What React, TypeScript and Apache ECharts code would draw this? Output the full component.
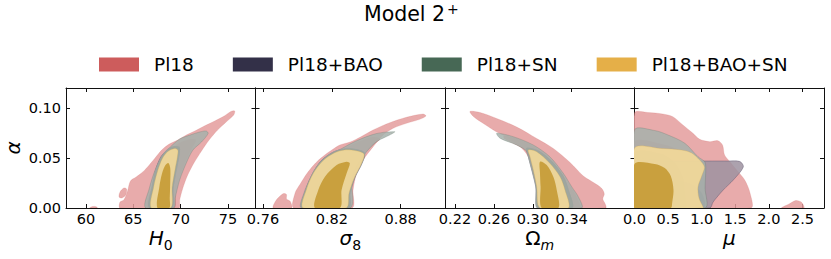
import React, { useEffect, useRef } from "react";
import * as echarts from "echarts";

type Pt = [number, number];

const FONT = "DejaVu Sans";

// ---------- legend ----------
const LEGEND_NAMES = ["Pl18", "Pl18+BAO", "Pl18+SN", "Pl18+BAO+SN"];
const LEGEND_COLORS = ["#CD5C5C", "#333048", "#476855", "#E5AF48"];

// ---------- ticks ----------
const ALPHA_TICKS = [0, 0.05, 0.1];
const H0_TICKS = [60, 65, 70, 75];
const S8_TICKS = [0.76, 0.82, 0.88];
const OM_TICKS = [0.22, 0.26, 0.3, 0.34];
const MU_TICKS = [0, 0.5, 1.0, 1.5, 2.0, 2.5];

// ---------- H0 panel contours (H0, alpha) ----------
const H0_PL18_2S: Pt[] = [[63.6,0],[63.6,0.006],[64.0,0.008],[64.4,0.017],[64.7,0.027],[65.3,0.031],[66.0,0.036],[66.6,0.042],[67.3,0.05],[68.0,0.058],[68.8,0.064],[69.7,0.068],[70.6,0.073],[71.5,0.077],[72.5,0.082],[73.6,0.087],[74.6,0.092],[75.3,0.0965],[75.7,0.097],[75.6,0.093],[74.8,0.086],[73.9,0.078],[73.0,0.068],[72.2,0.057],[71.4,0.045],[70.7,0.032],[70.2,0.019],[69.9,0.008],[69.8,0]];
const H0_PL18_2S_ISLAND: Pt[] = [[63.5,0.011],[63.6,0.016],[64.0,0.02],[64.3,0.019],[64.2,0.013],[63.8,0.01]];
const H0_PL18_2S_SPECK: Pt[] = [[60.4,0],[60.7,0.0015],[61.1,0.0012],[61.2,0]];
const H0_PL18_1S: Pt[] = [[66.5,0],[66.9,0.02],[67.5,0.038],[68.2,0.051],[69.1,0.06],[70.1,0.066],[71.1,0.069],[71.6,0.068],[71.2,0.06],[70.5,0.046],[69.9,0.03],[69.5,0.014],[69.35,0]];
const H0_BAO_2S: Pt[] = [[66.7,0],[66.95,0.02],[67.35,0.038],[67.9,0.051],[68.6,0.058],[69.3,0.061],[69.85,0.059],[69.8,0.05],[69.5,0.036],[69.2,0.02],[69.05,0]];
const H0_BAO_1S: Pt[] = [[67.5,0],[67.7,0.02],[68.1,0.036],[68.6,0.042],[68.9,0.038],[68.9,0.02],[68.8,0]];
const H0_SN_2S: Pt[] = [[66.3,0],[66.7,0.02],[67.3,0.038],[68.0,0.051],[68.9,0.061],[69.9,0.069],[71.0,0.073],[72.0,0.076],[72.7,0.077],[72.9,0.0745],[72.2,0.066],[71.3,0.058],[70.6,0.045],[69.9,0.028],[69.45,0.011],[69.25,0]];
const H0_SN_1S: Pt[] = [[66.7,0],[66.95,0.02],[67.35,0.038],[67.9,0.051],[68.6,0.059],[69.3,0.062],[69.9,0.061],[69.85,0.052],[69.55,0.037],[69.25,0.02],[69.1,0]];
const H0_ALL_2S: Pt[] = [[66.9,0],[67.15,0.021],[67.6,0.038],[68.1,0.05],[68.65,0.0565],[69.35,0.0595],[69.7,0.058],[69.65,0.051],[69.4,0.038],[69.1,0.021],[68.95,0]];
const H0_ALL_1S: Pt[] = [[67.55,0],[67.75,0.021],[68.05,0.035],[68.4,0.043],[68.7,0.045],[68.9,0.04],[68.9,0.025],[68.85,0.01],[68.8,0]];

// ---------- sigma8 panel contours ----------
const S8_PL18_2S: Pt[] = [[0.787,0],[0.788,0.015],[0.7925,0.024],[0.798,0.034],[0.8035,0.042],[0.8085,0.048],[0.815,0.054],[0.82,0.058],[0.827,0.063],[0.836,0.066],[0.845,0.071],[0.856,0.078],[0.8705,0.0853],[0.885,0.0907],[0.8995,0.094],[0.902,0.092],[0.8966,0.0887],[0.885,0.0847],[0.8734,0.0797],[0.8647,0.073],[0.856,0.0613],[0.8473,0.048],[0.8416,0.0347],[0.8385,0.018],[0.8375,0]];
const S8_PL18_2S_ISLAND: Pt[] = [[0.769,0],[0.7705,0.006],[0.774,0.011],[0.778,0.0145],[0.7805,0.0135],[0.7805,0.009],[0.7835,0.007],[0.785,0.003],[0.785,0]];
const S8_PL18_1S: Pt[] = [[0.795,0],[0.797,0.016],[0.801,0.028],[0.8065,0.039],[0.812,0.047],[0.822,0.054],[0.832,0.06],[0.843,0.066],[0.856,0.071],[0.862,0.069],[0.855,0.062],[0.848,0.054],[0.842,0.042],[0.838,0.028],[0.8355,0.012],[0.835,0]];
const S8_BAO_2S: Pt[] = [[0.7945,0],[0.7975,0.019],[0.8035,0.035],[0.8115,0.048],[0.8215,0.056],[0.831,0.059],[0.8405,0.0585],[0.8485,0.0545],[0.8465,0.045],[0.84,0.03],[0.836,0.015],[0.8345,0]];
const S8_BAO_1S: Pt[] = [[0.803,0],[0.806,0.018],[0.812,0.032],[0.822,0.043],[0.832,0.047],[0.835,0.044],[0.832,0.033],[0.829,0.017],[0.828,0]];
const S8_SN_2S: Pt[] = [[0.7935,0],[0.796,0.016],[0.8005,0.028],[0.806,0.04],[0.8115,0.048],[0.8215,0.055],[0.831,0.061],[0.842,0.0675],[0.859,0.0745],[0.8749,0.0763],[0.8705,0.073],[0.859,0.0663],[0.8503,0.0563],[0.8416,0.0413],[0.8375,0.028],[0.836,0]];
const S8_SN_1S: Pt[] = [[0.7945,0],[0.7975,0.019],[0.8035,0.036],[0.8115,0.048],[0.8215,0.0565],[0.831,0.0595],[0.841,0.059],[0.8488,0.0552],[0.8468,0.0455],[0.8403,0.0305],[0.8362,0.015],[0.8348,0]];
const S8_ALL_2S: Pt[] = [[0.795,0],[0.798,0.019],[0.804,0.035],[0.812,0.047],[0.822,0.055],[0.831,0.058],[0.84,0.0575],[0.848,0.054],[0.846,0.045],[0.8395,0.03],[0.835,0.015],[0.8325,0]];
const S8_ALL_1S: Pt[] = [[0.8053,0],[0.8082,0.018],[0.814,0.0313],[0.8242,0.043],[0.8329,0.0463],[0.8357,0.0447],[0.8329,0.0347],[0.8285,0.018],[0.827,0]];

// ---------- Omega_m panel contours ----------
const OM_PL18_2S: Pt[] = [[0.2354,0.0965],[0.2457,0.0955],[0.2629,0.0895],[0.2834,0.081],[0.304,0.0695],[0.3211,0.0595],[0.3383,0.0455],[0.352,0.032],[0.364,0.0245],[0.371,0.0195],[0.3735,0.014],[0.372,0.009],[0.3745,0.004],[0.375,0],[0.3055,0],[0.3045,0.015],[0.3025,0.03],[0.299,0.043],[0.293,0.055],[0.285,0.063],[0.275,0.07],[0.262,0.0765],[0.25,0.084],[0.2389,0.0915]];
const OM_PL18_1S: Pt[] = [[0.27,0.072],[0.285,0.069],[0.3,0.062],[0.316,0.051],[0.33,0.035],[0.339,0.021],[0.345,0.011],[0.348,0],[0.3065,0],[0.3055,0.015],[0.3035,0.031],[0.3,0.047],[0.295,0.056],[0.285,0.062],[0.271,0.069]];
const OM_BAO_2S: Pt[] = [[0.2937,0.0597],[0.3074,0.0563],[0.3211,0.0447],[0.3314,0.0313],[0.3365,0.018],[0.34,0],[0.3057,0],[0.303,0.0213],[0.2989,0.038],[0.2954,0.0513]];
const OM_BAO_1S: Pt[] = [[0.306,0.045],[0.316,0.042],[0.323,0.03],[0.326,0.016],[0.327,0],[0.308,0],[0.3065,0.02],[0.3055,0.035]];
const OM_SN_2S: Pt[] = [[0.2629,0.0747],[0.28,0.0713],[0.3005,0.063],[0.3175,0.0513],[0.3314,0.0347],[0.34,0.0213],[0.3468,0.0113],[0.3503,0],[0.3046,0],[0.304,0.0147],[0.3023,0.0313],[0.2989,0.048],[0.2944,0.0563],[0.2834,0.063],[0.2663,0.0697]];
const OM_SN_1S: Pt[] = [[0.2935,0.06],[0.306,0.057],[0.3205,0.046],[0.3315,0.032],[0.337,0.018],[0.3405,0],[0.3052,0],[0.3028,0.021],[0.2987,0.038],[0.2948,0.052]];
const OM_ALL_2S: Pt[] = [[0.2954,0.058],[0.304,0.0563],[0.3175,0.0447],[0.328,0.0313],[0.3331,0.018],[0.3365,0],[0.3074,0],[0.304,0.0213],[0.3005,0.038],[0.2971,0.0513]];
const OM_ALL_1S: Pt[] = [[0.3074,0.0463],[0.3143,0.043],[0.3211,0.0313],[0.3246,0.018],[0.3263,0],[0.3091,0],[0.308,0.0213],[0.3074,0.0347]];

// ---------- mu panel contours ----------
const MU_PL18_2S: Pt[] = [[0,0],[0,0.095],[0.2,0.0955],[0.42,0.094],[0.57,0.0913],[0.72,0.083],[0.87,0.0747],[0.97,0.0687],[1.12,0.0663],[1.24,0.0673],[1.31,0.063],[1.34,0.053],[1.42,0.0463],[1.52,0.038],[1.64,0.028],[1.72,0.0147],[1.73,0]];
const MU_PL18_2S_ISLAND: Pt[] = [[2.19,0],[2.3,0.004],[2.4,0.0075],[2.48,0.006],[2.52,0.002],[2.52,0]];
const MU_PL18_1S: Pt[] = [[0,0],[0,0.066],[0.4,0.064],[0.75,0.055],[0.95,0.043],[1.02,0.025],[1.04,0]];
const MU_BAO_2S: Pt[] = [[0,0],[0,0.047],[0.5,0.047],[1.0,0.047],[1.4,0.047],[1.57,0.0465],[1.62,0.041],[1.47,0.028],[1.32,0.018],[1.17,0.006],[1.12,0]];
const MU_BAO_1S: Pt[] = [[0,0],[0,0.03],[0.4,0.03],[0.8,0.025],[1.0,0.015],[1.03,0]];
const MU_SN_2S: Pt[] = [[0,0],[0,0.078],[0.3,0.0775],[0.5,0.073],[0.75,0.0647],[0.945,0.0513],[1.045,0.0463],[1.06,0.04],[1.05,0.02],[1.05,0]];
const MU_SN_1S: Pt[] = [[0,0],[0,0.055],[0.4,0.054],[0.6,0.045],[0.72,0.03],[0.75,0.015],[0.75,0]];
const MU_ALL_2S: Pt[] = [[0,0],[0,0.0597],[0.4,0.0595],[0.7,0.058],[0.85,0.055],[0.97,0.048],[1.04,0.041],[1.0,0.032],[0.945,0.021],[0.96,0.01],[1.02,0.001],[1.02,0]];
const MU_ALL_1S: Pt[] = [[0,0],[0,0.044],[0.3,0.044],[0.45,0.04],[0.54,0.032],[0.58,0.018],[0.56,0.005],[0.54,0]];

// ---------- styles ----------
const STYLES: Record<string, { fill: string; stroke: string; lw: number }> = {
  red2: { fill: "rgba(228,156,156,0.85)", stroke: "rgba(205,92,92,0.3)", lw: 0.6 },
  red1: { fill: "rgba(222,142,142,0.85)", stroke: "rgba(205,92,92,0)", lw: 0 },
  navy2: { fill: "rgba(157,146,160,0.85)", stroke: "rgba(60,55,85,0.45)", lw: 0.7 },
  navy1: { fill: "rgba(125,115,140,0.85)", stroke: "rgba(60,55,85,0)", lw: 0 },
  green2: { fill: "rgba(166,176,170,0.85)", stroke: "rgba(90,110,100,0.35)", lw: 0.7 },
  green1: { fill: "rgba(156,164,157,0.85)", stroke: "rgba(90,110,100,0)", lw: 0 },
  gold2: { fill: "rgba(248,220,152,0.85)", stroke: "rgba(210,170,80,0.45)", lw: 0.6 },
  gold1: { fill: "rgba(195,151,46,0.85)", stroke: "rgba(180,140,40,0)", lw: 0 },
};

type Layer = { data: Pt[]; style: string; legend: number };
type Panel = { min: number; max: number; ticks: number[]; digits: number; name: string; layers: Layer[] };

const PANELS: Panel[] = [
  {
    min: 57.9, max: 77.9, ticks: H0_TICKS, digits: 0, name: "{i|H}{s|0}",
    layers: [
      { data: H0_PL18_2S, style: "red2", legend: 0 },
      { data: H0_PL18_2S_ISLAND, style: "red2", legend: 0 },
      { data: H0_PL18_2S_SPECK, style: "red2", legend: 0 },
      { data: H0_PL18_1S, style: "red1", legend: 0 },
      { data: H0_BAO_2S, style: "navy2", legend: 1 },
      { data: H0_BAO_1S, style: "navy1", legend: 1 },
      { data: H0_SN_2S, style: "green2", legend: 2 },
      { data: H0_SN_1S, style: "green1", legend: 2 },
      { data: H0_ALL_2S, style: "gold2", legend: 3 },
      { data: H0_ALL_1S, style: "gold1", legend: 3 },
    ],
  },
  {
    min: 0.7535, max: 0.9186, ticks: S8_TICKS, digits: 2, name: "{i|σ}{s|8}",
    layers: [
      { data: S8_PL18_2S, style: "red2", legend: 0 },
      { data: S8_PL18_2S_ISLAND, style: "red2", legend: 0 },
      { data: S8_PL18_1S, style: "red1", legend: 0 },
      { data: S8_BAO_2S, style: "navy2", legend: 1 },
      { data: S8_BAO_1S, style: "navy1", legend: 1 },
      { data: S8_SN_2S, style: "green2", legend: 2 },
      { data: S8_SN_1S, style: "green1", legend: 2 },
      { data: S8_ALL_2S, style: "gold2", legend: 3 },
      { data: S8_ALL_1S, style: "gold1", legend: 3 },
    ],
  },
  {
    min: 0.2097, max: 0.4046, ticks: OM_TICKS, digits: 2, name: "{u|Ω}{si|m}",
    layers: [
      { data: OM_PL18_2S, style: "red2", legend: 0 },
      { data: OM_PL18_1S, style: "red1", legend: 0 },
      { data: OM_BAO_2S, style: "navy2", legend: 1 },
      { data: OM_BAO_1S, style: "navy1", legend: 1 },
      { data: OM_SN_2S, style: "green2", legend: 2 },
      { data: OM_SN_1S, style: "green1", legend: 2 },
      { data: OM_ALL_2S, style: "gold2", legend: 3 },
      { data: OM_ALL_1S, style: "gold1", legend: 3 },
    ],
  },
  {
    min: 0, max: 2.82, ticks: MU_TICKS, digits: 1, name: "{i|μ}",
    layers: [
      { data: MU_PL18_2S, style: "red2", legend: 0 },
      { data: MU_PL18_2S_ISLAND, style: "red2", legend: 0 },
      { data: MU_PL18_1S, style: "red1", legend: 0 },
      { data: MU_BAO_2S, style: "navy2", legend: 1 },
      { data: MU_BAO_1S, style: "navy1", legend: 1 },
      { data: MU_SN_2S, style: "green2", legend: 2 },
      { data: MU_SN_1S, style: "green1", legend: 2 },
      { data: MU_ALL_2S, style: "gold2", legend: 3 },
      { data: MU_ALL_1S, style: "gold1", legend: 3 },
    ],
  },
];

const GRID_LEFT = [66, 255.5, 445, 634.5];
const GRID_W = 189.5;
const GRID_TOP = 88;
const GRID_H = 120;

const AX = "#111";

function buildOption() {
  const grid: any[] = [];
  const xAxis: any[] = [];
  const yAxis: any[] = [];
  const series: any[] = [];

  const nameRich = {
    i: { fontFamily: FONT, fontSize: 20, fontStyle: "italic", color: "#000", padding: [0, 0, 4, 0], verticalAlign: "bottom" },
    u: { fontFamily: FONT, fontSize: 20, color: "#000", padding: [0, 0, 4, 0], verticalAlign: "bottom" },
    s: { fontFamily: FONT, fontSize: 14, color: "#000", verticalAlign: "bottom" },
    si: { fontFamily: FONT, fontSize: 14, fontStyle: "italic", color: "#000", verticalAlign: "bottom" },
  };

  PANELS.forEach((p, g) => {
    grid.push({ left: GRID_LEFT[g], width: GRID_W, top: GRID_TOP, height: GRID_H });
    const fmt = (v: number) => v.toFixed(p.digits);
    xAxis.push({
      type: "value", gridIndex: g, min: p.min, max: p.max, position: "bottom",
      axisLine: { show: true, onZero: false, lineStyle: { color: AX, width: 1 } },
      axisTick: { show: true, inside: true, length: 4, customValues: p.ticks, lineStyle: { color: AX } },
      axisLabel: { show: true, customValues: p.ticks, formatter: fmt, margin: 3, fontFamily: FONT, fontSize: 14.5, color: "#000", hideOverlap: false, showMinLabel: true, showMaxLabel: true },
      splitLine: { show: false },
      name: p.name, nameLocation: "middle", nameGap: 20,
      nameTextStyle: { rich: nameRich, fontFamily: FONT, fontSize: 20 },
    });
    xAxis.push({
      type: "value", gridIndex: g, min: p.min, max: p.max, position: "top",
      axisLine: { show: true, onZero: false, lineStyle: { color: AX, width: 1 } },
      axisTick: { show: true, inside: true, length: 4, customValues: p.ticks, lineStyle: { color: AX } },
      axisLabel: { show: false },
      splitLine: { show: false },
    });
    yAxis.push({
      type: "value", gridIndex: g, min: 0, max: 0.12, position: "left",
      axisLine: { show: true, onZero: false, lineStyle: { color: AX, width: 1 } },
      axisTick: { show: true, inside: true, length: 4, customValues: ALPHA_TICKS, lineStyle: { color: AX } },
      axisLabel: { show: g === 0, customValues: ALPHA_TICKS, formatter: (v: number) => v.toFixed(2), margin: 5, fontFamily: FONT, fontSize: 14.5, color: "#000" },
      splitLine: { show: false },
      ...(g === 0
        ? { name: "α", nameLocation: "middle", nameGap: 43, nameTextStyle: { fontFamily: FONT, fontSize: 20, fontStyle: "italic", color: "#000" } }
        : {}),
    });
    yAxis.push({
      type: "value", gridIndex: g, min: 0, max: 0.12, position: "right",
      axisLine: { show: true, onZero: false, lineStyle: { color: AX, width: 1 } },
      axisTick: { show: true, inside: true, length: 4, customValues: ALPHA_TICKS, lineStyle: { color: AX } },
      axisLabel: { show: false },
      splitLine: { show: false },
    });

    p.layers.forEach((layer) => {
      const st = STYLES[layer.style];
      series.push({
        type: "custom",
        name: LEGEND_NAMES[layer.legend],
        xAxisIndex: 2 * g,
        yAxisIndex: 2 * g,
        clip: true,
        silent: true,
        encode: { x: 0, y: 1 },
        itemStyle: { color: LEGEND_COLORS[layer.legend] },
        data: layer.data,
        renderItem: (params: any, api: any) => {
          if (params.dataIndex !== 0) return null;
          const pts = layer.data.map((d) => api.coord(d));
          return {
            type: "polygon",
            shape: { points: pts, smooth: 0.3 },
            style: { fill: st.fill, stroke: st.stroke, lineWidth: st.lw },
          };
        },
      });
    });
  });

  return {
    animation: false,
    title: {
      text: "{a|Model 2}{b|+}",
      left: 364,
      top: 2,
      padding: 0,
      textStyle: {
        fontFamily: FONT,
        fontSize: 20,
        fontWeight: "normal",
        rich: {
          a: { fontFamily: FONT, fontSize: 20.5, color: "#000", verticalAlign: "bottom" },
          b: { fontFamily: FONT, fontSize: 14, color: "#000", padding: [0, 0, 8, 2], verticalAlign: "bottom" },
        },
      },
    },
    legend: {
      left: 99,
      top: 55,
      padding: 0,
      itemWidth: 40,
      itemHeight: 14,
      itemGap: 39,
      icon: "rect",
      selectedMode: false,
      textStyle: { fontFamily: FONT, fontSize: 18.5, color: "#000", padding: [0, 0, 0, 10] },
      data: LEGEND_NAMES.map((n, i) => ({ name: n, icon: "rect", itemStyle: { color: LEGEND_COLORS[i], borderWidth: 0 } })),
    },
    grid,
    xAxis,
    yAxis,
    series,
  };
}

export default function App() {
  const ref = useRef<HTMLDivElement>(null);
  useEffect(() => {
    if (!ref.current) return;
    const chart = echarts.init(ref.current, null, { renderer: "svg" });
    chart.setOption(buildOption() as any);
    return () => chart.dispose();
  }, []);
  return <div ref={ref} style={{ width: 831, height: 259, position: "absolute", left: 0, top: 0 }} />;
}
